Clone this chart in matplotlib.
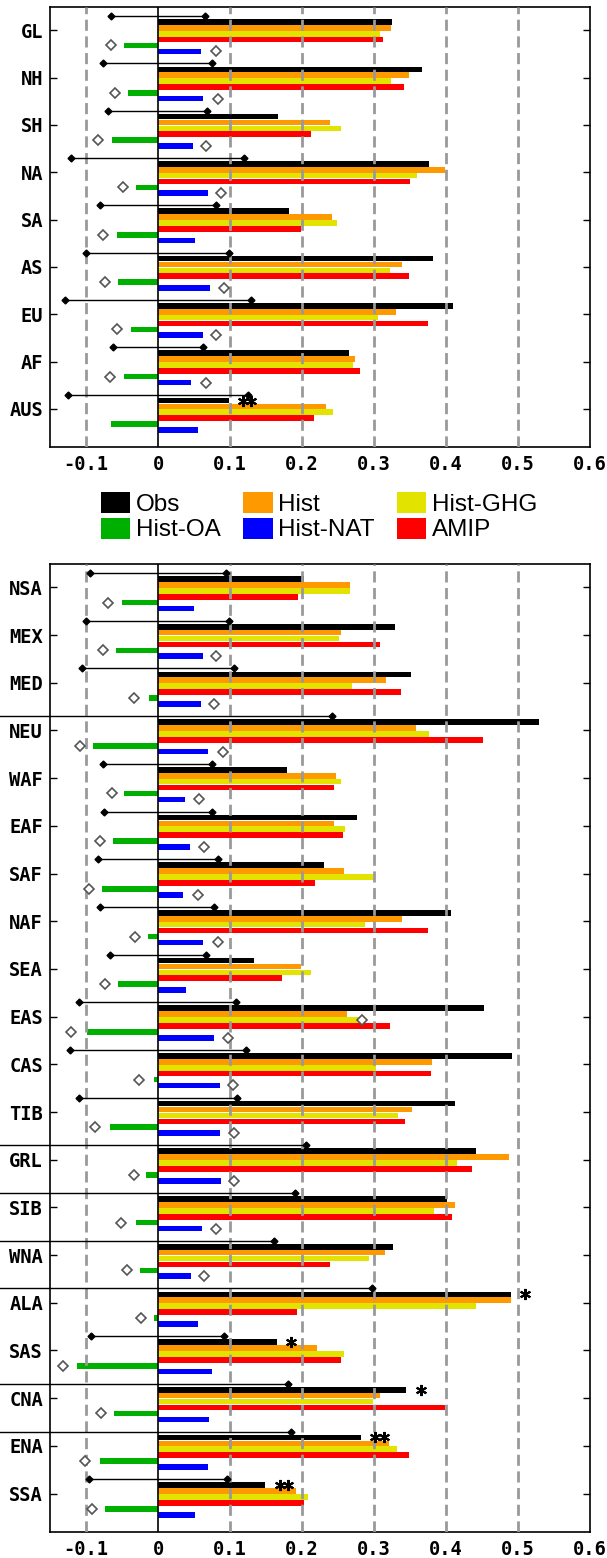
import numpy as np
import matplotlib
matplotlib.use("Agg")
import matplotlib.pyplot as plt
from matplotlib.patches import Patch

nan = np.nan

# ---- top panel (continents / hemispheres) ----
top_regions = ["GL", "NH", "SH", "NA", "SA", "AS", "EU", "AF", "AUS"]
top_obs = [0.325, 0.367, 0.166, 0.377, 0.182, 0.382, 0.410, 0.265, 0.098]
top_hist = [0.323, 0.348, 0.239, 0.399, 0.242, 0.339, 0.331, 0.274, 0.233]
top_ghg = [0.308, 0.324, 0.254, 0.360, 0.249, 0.322, 0.305, 0.271, 0.243]
top_amip = [0.312, 0.341, 0.2125, 0.350, 0.199, 0.348, 0.375, 0.281, 0.217]
top_oa = [-0.047, -0.041, -0.064, -0.031, -0.057, -0.055, -0.038, -0.047, -0.065]
top_nat = [0.060, 0.063, 0.048, 0.070, 0.051, 0.072, 0.063, 0.046, 0.055]
top_err_lo = [-0.065, -0.076, -0.069, -0.121, -0.081, -0.100, -0.129, -0.063, -0.125]
top_err_hi = [0.065, 0.075, 0.068, 0.120, 0.080, 0.099, 0.129, 0.063, 0.125]
top_dia_lo = [-0.065, -0.060, -0.083, -0.049, -0.077, -0.074, -0.057, -0.067, nan]
top_dia_hi = [0.080, 0.083, 0.066, 0.088, nan, 0.091, 0.081, 0.067, nan]
top_dia_mid = [nan] * 9
top_sig = [0, 0, 0, 0, 0, 0, 0, 0, 2]

# ---- bottom panel (sub-regions) ----
bot_regions = ["NSA", "MEX", "MED", "NEU", "WAF", "EAF", "SAF", "NAF", "SEA", "EAS",
               "CAS", "TIB", "GRL", "SIB", "WNA", "ALA", "SAS", "CNA", "ENA", "SSA"]
bot_obs = [0.203, 0.329, 0.351, 0.529, 0.179, 0.276, 0.231, 0.407, 0.134, 0.453,
           0.492, 0.412, 0.441, 0.401, 0.327, 0.490, 0.165, 0.345, 0.282, 0.149]
bot_hist = [0.267, 0.254, 0.317, 0.359, 0.247, 0.244, 0.258, 0.339, 0.199, 0.263,
            0.380, 0.353, 0.488, 0.413, 0.315, 0.490, 0.2215, 0.309, 0.321, 0.191]
bot_ghg = [0.267, 0.251, 0.270, 0.376, 0.254, 0.260, 0.298, 0.2875, 0.213, 0.285,
           0.303, 0.334, 0.415, 0.384, 0.293, 0.441, 0.258, 0.298, 0.332, 0.209]
bot_amip = [0.194, 0.309, 0.337, 0.451, 0.244, 0.257, 0.218, 0.375, 0.172, 0.322,
            0.379, 0.343, 0.436, 0.408, 0.239, 0.1935, 0.254, 0.399, 0.348, 0.203]
bot_oa = [-0.050, -0.059, -0.012, -0.090, -0.047, -0.062, -0.078, -0.014, -0.055, -0.098,
          -0.006, -0.067, -0.016, -0.031, -0.025, -0.005, -0.112, -0.061, -0.081, -0.073]
bot_nat = [0.050, 0.062, 0.060, 0.070, 0.0375, 0.044, 0.035, 0.063, 0.039, 0.078,
           0.086, 0.086, 0.0875, 0.0615, 0.046, 0.055, 0.075, 0.071, 0.070, 0.051]
bot_err_lo = [-0.095, -0.100, -0.106, -0.25, -0.076, -0.075, -0.084, -0.080, -0.067, -0.110,
              -0.122, -0.110, -0.25, -0.25, -0.25, -0.25, -0.093, -0.25, -0.25, -0.096]
bot_err_hi = [0.094, 0.099, 0.105, 0.242, 0.075, 0.075, 0.084, 0.078, 0.067, 0.109,
              0.122, 0.110, 0.206, 0.190, 0.161, 0.297, 0.091, 0.181, 0.185, 0.096]
bot_dia_lo = [-0.070, -0.077, -0.033, -0.108, -0.064, -0.081, -0.096, -0.032, -0.074, -0.121,
              -0.027, -0.0875, -0.034, -0.051, -0.043, -0.024, -0.132, -0.079, -0.101, -0.092]
bot_dia_hi = [nan, 0.081, 0.078, 0.090, 0.057, 0.064, 0.056, 0.083, nan, 0.097,
              0.104, 0.106, 0.106, 0.081, 0.064, nan, nan, nan, nan, nan]
bot_dia_mid = [nan] * 9 + [0.283] + [nan] * 10
bot_sig = [0] * 15 + [1, 1, 1, 2, 2]

xticks = [-0.1, 0, 0.1, 0.2, 0.3, 0.4, 0.5, 0.6]
xlabels = ["-0.1", "0", "0.1", "0.2", "0.3", "0.4", "0.5", "0.6"]

C_OBS, C_HIST, C_GHG = "#000000", "#FF9900", "#E3E300"
C_OA, C_NAT, C_AMIP = "#00B000", "#0000FF", "#FF0000"

SLOT = 0.124
offs = -0.30 + SLOT * np.arange(7)   # err, obs, hist, ghg, amip, oa, nat
BH = 0.118
TICKFONT = dict(family="DejaVu Sans Mono", weight="bold", size=13.5)


def draw_panel(ax, regions, obs, hist, ghg, amip, oa, nat,
               err_lo, err_hi, dia_lo, dia_hi, dia_mid, sig):
    n = len(regions)
    y = np.arange(n)
    for k, (vals, c) in enumerate([(obs, C_OBS), (hist, C_HIST), (ghg, C_GHG),
                                   (amip, C_AMIP), (oa, C_OA), (nat, C_NAT)]):
        ax.barh(y + offs[k + 1], vals, height=BH, color=c, edgecolor="none", zorder=2)

    for v in [-0.1, 0.1, 0.2, 0.3, 0.4, 0.5]:
        ax.axvline(v, color="#999999", lw=2, ls=(0, (4, 2)), zorder=3)
    ax.axvline(0, color="black", lw=1.2, zorder=3)

    for i in range(n):
        ye = y[i] + offs[0]
        ax.plot([err_lo[i], err_hi[i]], [ye, ye], color="black", lw=1.0,
                zorder=5, clip_on=False)
        ax.plot([err_lo[i], err_hi[i]], [ye, ye], ls="none", marker="D", ms=3.5,
                color="black", zorder=6, clip_on=False)
        for s in range(sig[i]):
            ax.plot(obs[i] + 0.02 + 0.0115 * s, y[i] + offs[1], ls="none",
                    marker=(6, 2, 0), ms=8, mew=1.5, color="black", zorder=6)

    dkw = dict(ls="none", marker="D", ms=5.5, mfc="white", mec="#555555", mew=1.2, zorder=6)
    ax.plot(dia_lo, y + offs[5], **dkw)
    ax.plot(dia_hi, y + offs[6], **dkw)
    ax.plot(dia_mid, y + offs[3], **dkw)

    ax.set_xlim(-0.15, 0.6)
    ax.set_ylim(n - 1 + 0.8, -0.5)
    ax.set_yticks(y)
    ax.set_yticklabels(regions, **TICKFONT)
    ax.set_xticks(xticks)
    ax.set_xticklabels(xlabels, **TICKFONT)
    ax.tick_params(axis="y", direction="in", left=True, right=True, length=5,
                   width=1, pad=5)
    ax.tick_params(axis="x", direction="in", length=0, pad=6)
    for sp in ax.spines.values():
        sp.set_linewidth(1.2)


fig = plt.figure(figsize=(6.07, 15.58), dpi=100)
ax1 = fig.add_axes([0.0824, 0.7133, 0.8896, 0.2824])
ax2 = fig.add_axes([0.0824, 0.01688, 0.8896, 0.6214])

draw_panel(ax1, top_regions, top_obs, top_hist, top_ghg, top_amip, top_oa, top_nat,
           top_err_lo, top_err_hi, top_dia_lo, top_dia_hi, top_dia_mid, top_sig)
draw_panel(ax2, bot_regions, bot_obs, bot_hist, bot_ghg, bot_amip, bot_oa, bot_nat,
           bot_err_lo, bot_err_hi, bot_dia_lo, bot_dia_hi, bot_dia_mid, bot_sig)

# legend is row-major in the original: reorder for matplotlib's column filling
names = ["Obs", "Hist-OA", "Hist", "Hist-NAT", "Hist-GHG", "AMIP"]
cols = [C_OBS, C_OA, C_HIST, C_NAT, C_GHG, C_AMIP]
handles = [Patch(facecolor=c, edgecolor="none") for c in cols]
fig.legend(handles, names, ncol=3, loc="center", bbox_to_anchor=(0.5255, 0.6684),
           frameon=False, borderpad=0, handlelength=1.23, handleheight=0.95,
           handletextpad=0.23, columnspacing=0.9, labelspacing=0.08,
           prop=dict(family="Liberation Sans", size=17.5))

fig.savefig("out.png", dpi=100)
